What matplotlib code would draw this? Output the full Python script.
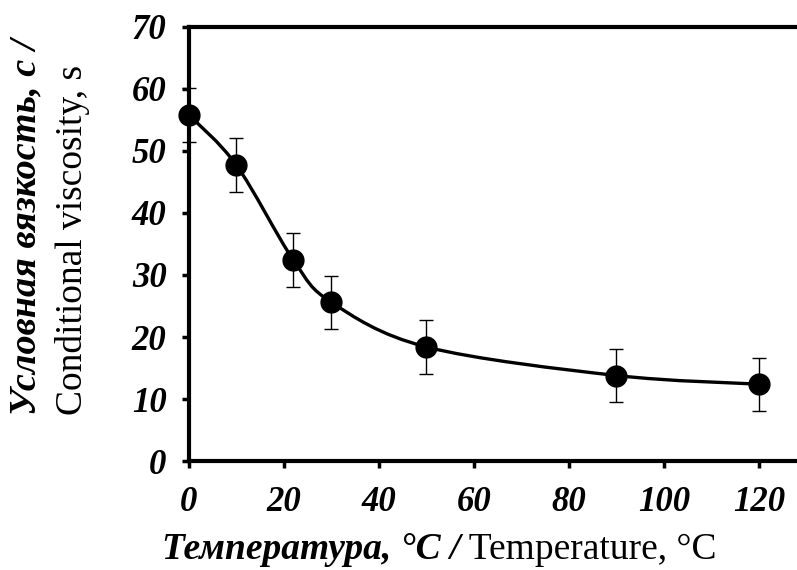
import numpy as np
import matplotlib.pyplot as plt
from matplotlib.path import Path
from matplotlib.patches import PathPatch

# Data
temperature = np.array([0, 10, 22, 30, 50, 90, 120])
viscosity = np.array([55.8, 47.7, 32.4, 25.6, 18.4, 13.8, 12.4])
errors = np.array([4.3, 4.3, 4.3, 4.3, 4.3, 4.3, 4.3])

x_ticks = [0, 20, 40, 60, 80, 100, 120]
y_ticks = [0, 10, 20, 30, 40, 50, 60, 70]

serif = "Liberation Serif"

fig = plt.figure(figsize=(7.97, 5.70), dpi=100)
ax = fig.add_axes([0.237, 0.191, 0.763, 0.762])

# Excel-style smoothed line (Catmull-Rom as cubic Bezier segments)
pts = np.column_stack([temperature, viscosity])
ext = np.vstack([pts[0], pts, pts[-1]])
verts = [tuple(pts[0])]
codes = [Path.MOVETO]
for i in range(len(pts) - 1):
    p0, p1, p2, p3 = ext[i], ext[i + 1], ext[i + 2], ext[i + 3]
    c1 = p1 + (p2 - p0) / 6
    c2 = p2 - (p3 - p1) / 6
    verts += [tuple(c1), tuple(c2), tuple(p2)]
    codes += [Path.CURVE4] * 3
ax.add_patch(PathPatch(Path(verts, codes), facecolor="none", edgecolor="black",
                       lw=2.4, zorder=2, clip_on=False))

ax.errorbar(temperature, viscosity, yerr=errors, fmt="none", ecolor="black",
            elinewidth=1.0, capsize=5, capthick=1.0, zorder=3, clip_on=False)
ax.plot(temperature, viscosity, "o", color="black", markersize=15, zorder=4,
        clip_on=False)

ax.set_xlim(0, 128)
ax.set_ylim(0, 70)
ax.set_xticks(x_ticks)
ax.set_yticks(y_ticks)

for side in ["left", "bottom", "top"]:
    ax.spines[side].set_linewidth(3)
ax.spines["right"].set_visible(False)

ax.tick_params(axis="both", direction="out", length=5, width=2.5, pad=13)
ax.tick_params(axis="y", pad=11)
for lab in ax.get_xticklabels() + ax.get_yticklabels():
    lab.set_fontfamily(serif)
    lab.set_fontweight("bold")
    lab.set_fontstyle("italic")
    lab.set_fontsize(25)

# x axis title: bold italic Russian part, regular English part
t1 = fig.text(0.203, 0.02, "Температура, °C /", fontfamily=serif,
              fontweight="bold", fontstyle="italic", fontsize=27,
              ha="left", va="baseline")
ax.annotate(" Temperature, °C", xy=(1, 0), xycoords=t1, va="bottom",
            ha="left", fontfamily=serif, fontsize=27)

# y axis title: two rotated lines
fig.text(0.032, 0.272, "Условная вязкость, с /", fontfamily=serif,
         fontweight="bold", fontstyle="italic", fontsize=27.5,
         rotation=90, ha="center", va="bottom")
fig.text(0.091, 0.272, "Conditional viscosity, s", fontfamily=serif,
         fontsize=27, rotation=90, ha="center", va="bottom")

fig.savefig("out.png", dpi=100)
plt.close(fig)
